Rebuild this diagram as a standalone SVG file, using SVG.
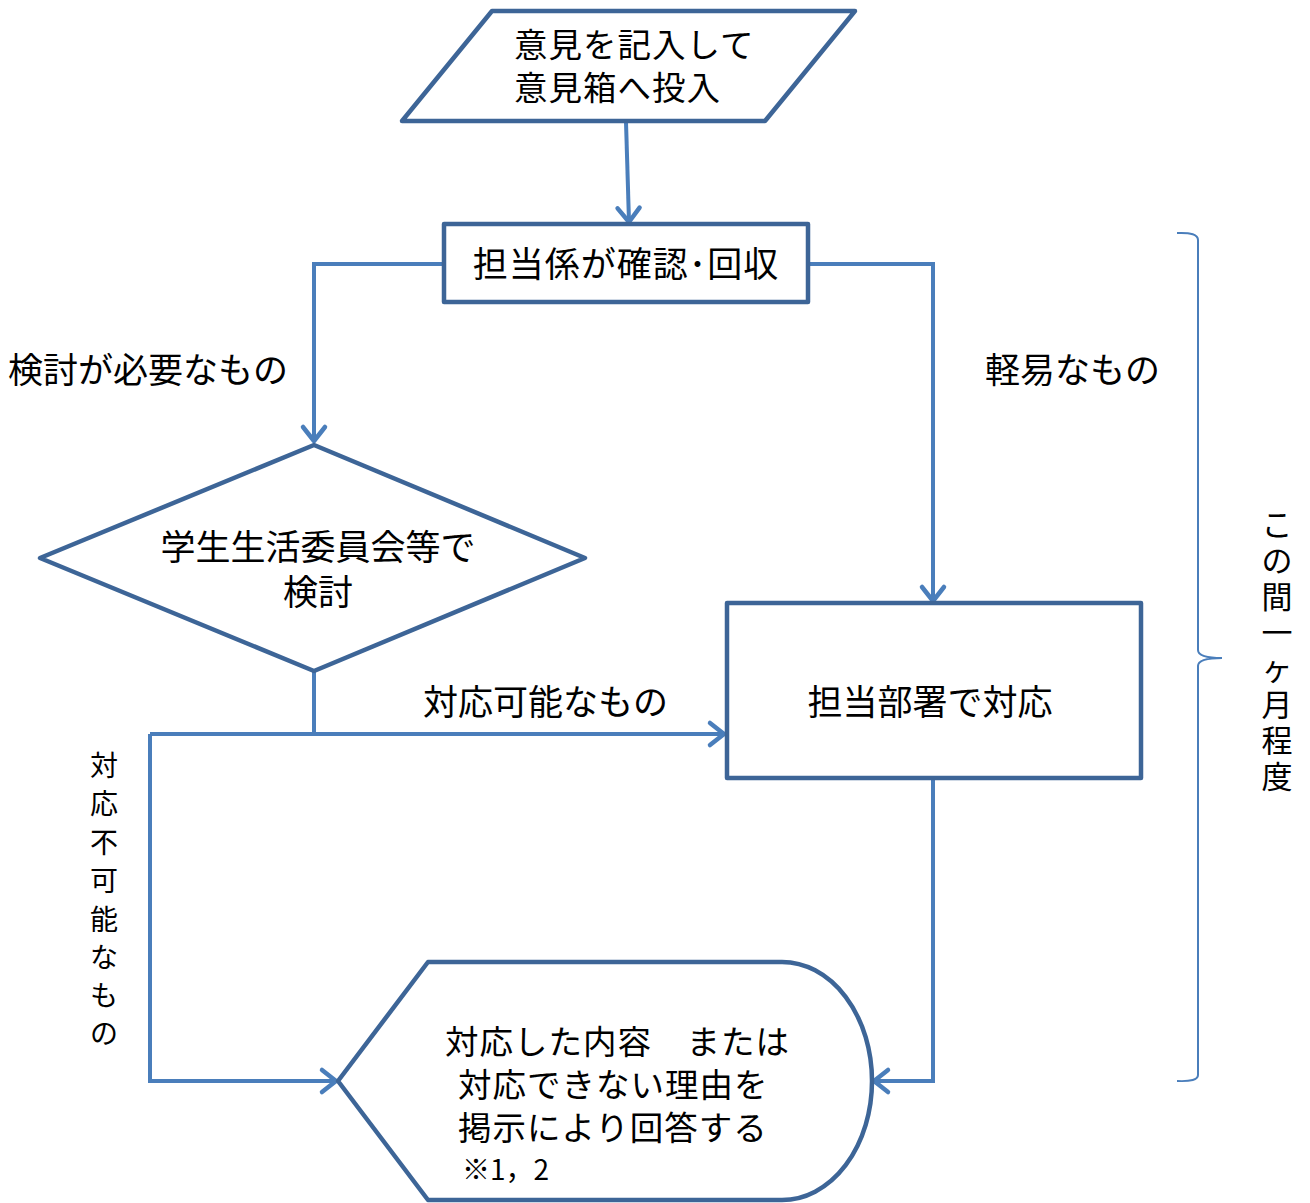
<svg xmlns="http://www.w3.org/2000/svg" width="1310" height="1203" viewBox="0 0 1310 1203">
<defs>
<style>
.node{fill:#ffffff;stroke:#3d6597;stroke-width:4.5;stroke-linejoin:round}
.conn{fill:none;stroke:#4a7ebb;stroke-width:4}
.brace{fill:none;stroke:#4a7ebb;stroke-width:2}
.t{font-family:"Noto Sans CJK JP","Noto Sans CJK SC",sans-serif;fill:#000000}
.big{font-size:35px}
.disp{font-size:33.5px;letter-spacing:1px}
.vt{font-size:28px;text-anchor:middle}
.vr{font-size:31px;text-anchor:middle}
</style>
<marker id="arr" markerUnits="userSpaceOnUse" viewBox="-20 -15 24 30" refX="0" refY="0" markerWidth="24" markerHeight="30" orient="auto" overflow="visible">
<path d="M-14,-11 L0,0 L-14,11" fill="none" stroke="#4a7ebb" stroke-width="4.5" stroke-linecap="round" stroke-linejoin="round"/>
</marker>
</defs>
<rect width="1310" height="1203" fill="#ffffff"/>

<g id="connectors">
<path class="conn" d="M626,122 L629,222" marker-end="url(#arr)"/>
<path class="conn" d="M444,264 L314,264 L314,441" marker-end="url(#arr)"/>
<path class="conn" d="M808,264 L933,264 L933,601" marker-end="url(#arr)"/>
<path class="conn" d="M314,671 L314,734"/>
<path class="conn" d="M150,734 L724,734" marker-end="url(#arr)"/>
<path class="conn" d="M150,734 L150,1081 L336,1081" marker-end="url(#arr)"/>
<path class="conn" d="M933,778 L933,1081 L874,1081" marker-end="url(#arr)"/>
</g>

<g id="brace">
<path class="brace" d="M1177,233 Q1198,232 1198,240 L1198,650 Q1198,658 1222,658 Q1198,658 1198,666 L1198,1075 Q1198,1082 1177,1081"/>
</g>

<g id="n1">
<polygon class="node" points="492,11 855,11 765,121 402,121"/>
<text class="t disp" x="514" y="57">意見を記入して</text>
<text class="t disp" x="514" y="100">意見箱へ投入</text>
</g>

<g id="n2">
<rect class="node" x="444" y="224" width="364" height="78"/>
<text class="t big" x="626" y="277" text-anchor="middle" letter-spacing="1">担当係が確認･回収</text>
</g>

<g id="n3">
<polygon class="node" points="40,558 314,445 585,558 314,671"/>
<text class="t big" x="318" y="560" text-anchor="middle">学生生活委員会等で</text>
<text class="t big" x="318" y="605" text-anchor="middle">検討</text>
</g>

<g id="n4">
<rect class="node" x="727" y="603" width="414" height="175"/>
<text class="t big" x="930" y="715" text-anchor="middle">担当部署で対応</text>
</g>

<g id="n5">
<path class="node" d="M338,1081 L428,962 L782,962 A90,119 0 0 1 782,1200 L428,1200 Z"/>
<text class="t disp" x="445" y="1054">対応した内容　または</text>
<text class="t disp" x="458" y="1097">対応できない理由を</text>
<text class="t disp" x="458" y="1140">掲示により回答する</text>
<text class="t" x="462" y="1180" font-size="28">※1，2</text>
</g>

<g id="labels">
<text class="t big" x="8" y="383">検討が必要なもの</text>
<text class="t big" x="985" y="383">軽易なもの</text>
<text class="t big" x="423" y="715">対応可能なもの</text>
<g class="t vt">
<text x="104" y="776">対</text>
<text x="104" y="814">応</text>
<text x="104" y="853">不</text>
<text x="104" y="891">可</text>
<text x="104" y="930">能</text>
<text x="104" y="968">な</text>
<text x="104" y="1006">も</text>
<text x="104" y="1044">の</text>
</g>
<g class="t vr">
<text x="1277" y="536">こ</text>
<text x="1277" y="572">の</text>
<text x="1277" y="608">間</text>
<text x="1277" y="644">一</text>
<text x="1277" y="680">ヶ</text>
<text x="1277" y="716">月</text>
<text x="1277" y="752">程</text>
<text x="1277" y="788">度</text>
</g>
</g>
</svg>
